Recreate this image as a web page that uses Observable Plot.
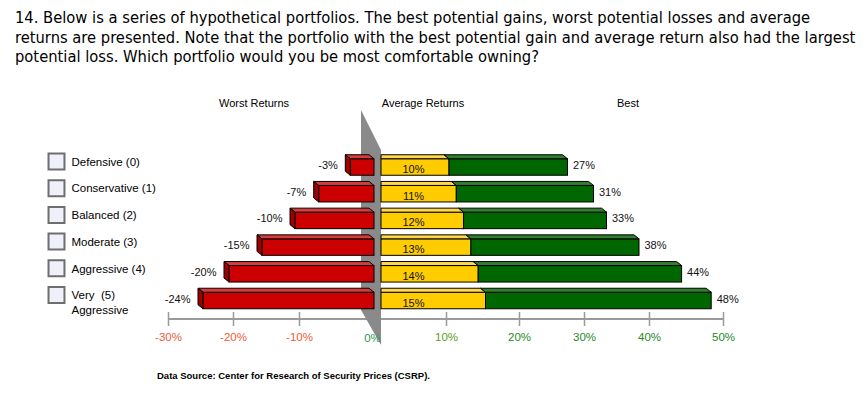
<!DOCTYPE html>
<html><head><meta charset="utf-8">
<script src="https://cdn.jsdelivr.net/npm/d3@7"></script>
<script src="https://cdn.jsdelivr.net/npm/@observablehq/plot@0.6"></script>
<style>
body{margin:0;background:#fff;width:868px;height:396px;overflow:hidden;position:relative;font-family:"Liberation Sans",Arial,sans-serif}
#title{position:absolute;left:15px;top:8px;font-family:"DejaVu Sans Condensed","DejaVu Sans",sans-serif;font-size:15px;line-height:19.5px;color:#000;white-space:nowrap}
.hdr{position:absolute;top:103px;transform:translate(-50%,-50%);font-size:11px;color:#000;white-space:nowrap;z-index:2}
#footer{position:absolute;left:157px;top:375px;transform:translateY(-50%);font-size:9.5px;font-weight:bold;color:#000;white-space:nowrap;z-index:2}
#chart{position:absolute;left:0;top:70px;z-index:1}
</style></head>
<body>
<div id="title"></div>
<div id="chart"></div>
<div id="headers"></div>
<div id="footer"></div>
<script>
const titleLines = [
  "14. Below is a series of hypothetical portfolios. The best potential gains, worst potential losses and average",
  "returns are presented. Note that the portfolio with the best potential gain and average return also had the largest",
  "potential loss.  Which portfolio would you be most comfortable owning?"
];
const footerText = "Data Source: Center for Research of Security Prices (CSRP).";
const columnHeaders = ["Worst Returns", "Average Returns", "Best"];
const categories = ["Defensive (0)", "Conservative (1)", "Balanced (2)", "Moderate (3)", "Aggressive (4)", "Very Aggressive (5)"];
const categoryLabels = ["Defensive (0)", "Conservative (1)", "Balanced (2)", "Moderate (3)", "Aggressive (4)", "Very  (5)\nAggressive"];
const worst = [-3, -7, -10, -15, -20, -24];
const average = [10, 11, 12, 13, 14, 15];
const best = [27, 31, 33, 38, 44, 48];
const tickValues = [-30, -20, -10, 0, 10, 20, 30, 40, 50];
const tickLabels = ["-30%", "-20%", "-10%", "0%", "10%", "20%", "30%", "40%", "50%"];

// title
const tdiv = document.getElementById("title");
const ctx = document.createElement("canvas").getContext("2d");
ctx.font = "100px 'DejaVu Sans Condensed', 'DejaVu Sans'";
const fs = 100 * 841 / ctx.measureText(titleLines[1]).width;
tdiv.style.fontSize = fs + "px";
tdiv.innerHTML = titleLines.join("<br>");
document.getElementById("footer").textContent = footerText;

const hdrX = [254, 423, 628];
const hd = document.getElementById("headers");
columnHeaders.forEach((h, i) => {
  const d = document.createElement("div");
  d.className = "hdr"; d.style.left = hdrX[i] + "px"; d.textContent = h; hd.appendChild(d);
});

const rows = categories.map((c, i) => ({cat: c, label: categoryLabels[i], worst: worst[i], avg: average[i], best: best[i]}));
const ticks = tickValues.map((v, i) => ({v, label: tickLabels[i]}));
const tickColor = v => v < 0 ? "#ee5a3a" : v === 0 ? "#2e9a5a" : v === 10 ? "#5aa01e" : "#1f8a1f";

const plot = Plot.plot({
  width: 868, height: 326,
  marginTop: 242, marginBottom: 70, marginLeft: 71, marginRight: 20,
  x: {type: "linear", domain: tickValues, range: [168, 233, 299, 378, 446, 519, 584, 649, 723], axis: null},
  y: {type: "band", domain: categories, range: [83.65, 243.85], paddingInner: 0.382, paddingOuter: 0.191, axis: null, round: false},
  style: {fontFamily: "'Liberation Sans', Arial, sans-serif", fontSize: "11px", background: "white", overflow: "visible"},
  marks: [
    Plot.barX([{a: d3.min(tickValues), b: d3.max(tickValues)}], {x1: "a", x2: "b", insetTop: 6, insetBottom: 6, fill: "#9a9a9a"}),
    Plot.tickX(tickValues, {x: d => d, stroke: "#999", strokeWidth: 1.5}),
    Plot.barX(rows, {y: "cat", x1: d => 0, x2: "worst", dx: -4, fill: "#cc0000", stroke: "#000", strokeWidth: 1}),
    Plot.barX(rows, {y: "cat", x1: d => 0, x2: "avg", dx: 3, fill: "#ffcc00", stroke: "#000", strokeWidth: 1}),
    Plot.barX(rows, {y: "cat", x1: "avg", x2: "best", dx: 3, fill: "#006600", stroke: "#000", strokeWidth: 1}),
    Plot.text(ticks.filter(t => t.v !== 0), {x: "v", text: "label", frameAnchor: "bottom", dy: 14, fill: d => tickColor(d.v), fontSize: 11.5}),
    Plot.text(ticks.filter(t => t.v === 0), {x: "v", text: "label", frameAnchor: "bottom", dx: -6, dy: 15, fill: d => tickColor(d.v), fontSize: 11.5}),
    Plot.dot(rows, {y: "cat", frameAnchor: "left", dx: -15, dy: -6, symbol: "square", r: 9, fill: "#eff0fa", stroke: "#6e6e6e", strokeWidth: 2}),
    Plot.text(rows, {y: "cat", text: "label", frameAnchor: "left", textAnchor: "start", lineAnchor: "top", dy: -12, lineHeight: 1.25, fontSize: 11.5, fill: "#000"}),
    Plot.text(rows, {x: "worst", y: "cat", text: d => d.worst + "%", textAnchor: "end", dx: -17, dy: -2, fill: "#111"}),
    Plot.text(rows, {x: d => 0, y: "cat", text: d => d.avg + "%", textAnchor: "middle", dx: 35, dy: 2, fill: "#111"}),
    Plot.text(rows, {x: "best", y: "cat", text: d => d.best + "%", textAnchor: "start", dx: 8, dy: -2, fill: "#111"})
  ]
});
document.getElementById("chart").appendChild(plot);

// divider wedge (between ticks and bars) and 3D faces, drawn with the plot's scales
const xs = plot.scale("x"), ys = plot.scale("y");
const X = v => xs.apply(v), Y = c => ys.apply(c), bw = ys.bandwidth;
const x0 = X(0);
const NS = "http://www.w3.org/2000/svg";
const groups = Array.from(plot.children).filter(n => n.tagName.toLowerCase() === "g");
const wedge = document.createElementNS(NS, "polygon");
wedge.setAttribute("points", [[x0 - 17, 40], [x0 + 3, 80], [x0 + 3, 275], [x0 - 17, 240]].map(p => p.join(",")).join(" "));
wedge.setAttribute("fill", "#8a8a8a");
plot.insertBefore(wedge, groups[2]);

const faces = document.createElementNS(NS, "g");
faces.setAttribute("stroke", "#000"); faces.setAttribute("stroke-width", "1"); faces.setAttribute("stroke-linejoin", "round");
plot.insertBefore(faces, groups[5]);
const dX = 5, dY = 4;
const poly = (pts, fill) => {
  const p = document.createElementNS(NS, "polygon");
  p.setAttribute("points", pts.map(q => q.join(",")).join(" "));
  p.setAttribute("fill", fill);
  faces.appendChild(p);
};
rows.forEach(r => {
  const y0 = Y(r.cat), y1 = y0 + bw;
  let a = X(r.worst) - 4, b = X(0) - 4;
  poly([[a, y0], [b, y0], [b - dX, y0 - dY], [a - dX, y0 - dY]], "#d93a3a");
  poly([[a, y0], [a, y1], [a - dX, y1 - dY], [a - dX, y0 - dY]], "#9e0000");
  a = X(0) + 3; b = X(r.avg) + 3;
  poly([[a, y0], [b, y0], [b - dX, y0 - dY], [a, y0 - dY]], "#ffd84a");
  a = X(r.avg) + 3; b = X(r.best) + 3;
  poly([[a, y0], [b, y0], [b - dX, y0 - dY], [a - dX, y0 - dY]], "#2f7f2f");
});
</script>
</body></html>
